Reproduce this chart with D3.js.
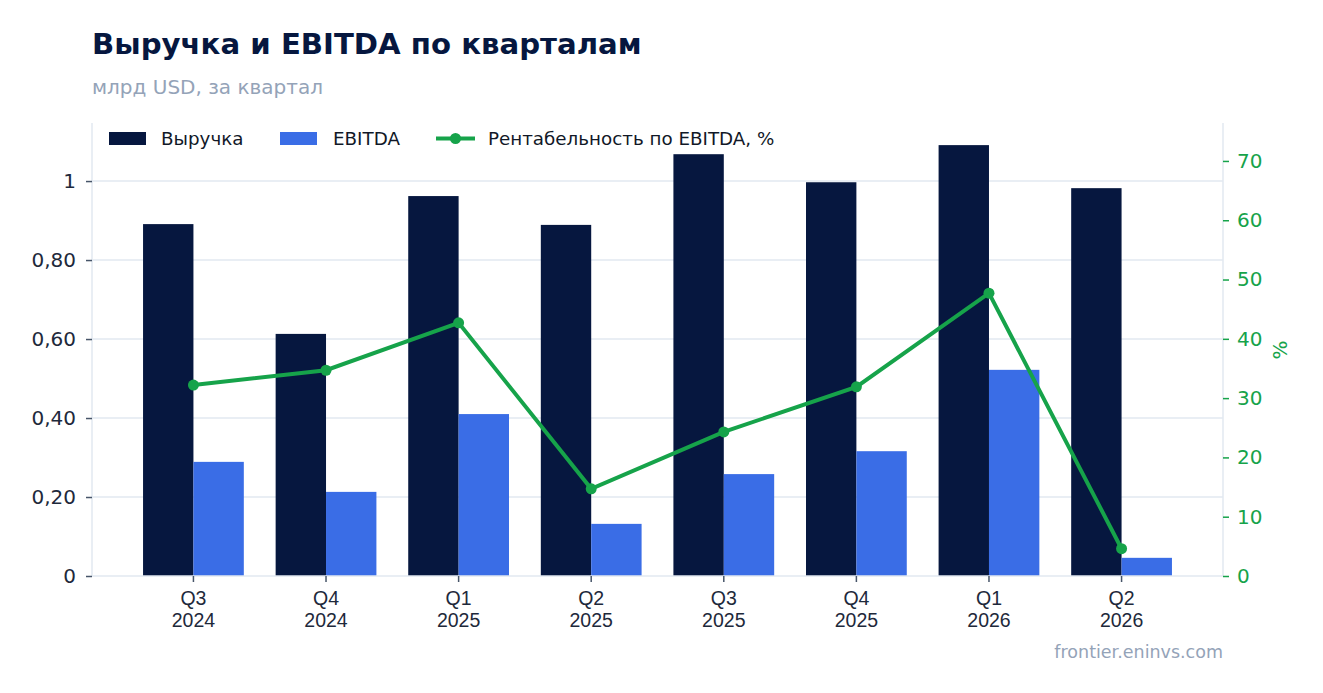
<!DOCTYPE html>
<html>
<head>
<meta charset="utf-8">
<script src="https://cdn.jsdelivr.net/npm/d3@7"></script>
<style>
  body { margin: 0; background: #fff; font-family: "DejaVu Sans", sans-serif; }
</style>
</head>
<body>
<svg id="chart" width="1323" height="693"></svg>
<script>
// quarters and values
var quarters = ["Q3 2024", "Q4 2024", "Q1 2025", "Q2 2025", "Q3 2025", "Q4 2025", "Q1 2026", "Q2 2026"];
var revenue = [0.891, 0.613, 0.962, 0.889, 1.068, 0.997, 1.091, 0.982];
var ebitda = [0.289, 0.213, 0.410, 0.132, 0.258, 0.316, 0.522, 0.046];
var margin = [32.2, 34.7, 42.7, 14.7, 24.3, 31.9, 47.7, 4.6];
var leftTicks = [0, 0.2, 0.4, 0.6, 0.8, 1];
var rightTicks = [0, 10, 20, 30, 40, 50, 60, 70];

var navy = "#06173f";
var blue = "#3a6de6";
var green = "#16a34a";
var gridCol = "#e2e8f0";

var svg = d3.select("#chart");

// plot box
var plotLeft = 92, plotRight = 1223, plotTop = 123, plotBottom = 576;

var x = d3.scaleBand()
    .domain(quarters)
    .range([plotLeft, plotRight])
    .paddingInner(0.24)
    .paddingOuter(0.385);

var yL = d3.scaleLinear().domain([0, 1.147]).range([plotBottom, plotTop]);
var yR = d3.scaleLinear().domain([0, 76.4]).range([plotBottom, plotTop]);

// title
svg.append("text")
    .attr("x", 92).attr("y", 54)
    .attr("font-size", 29.2).attr("font-weight", "bold")
    .attr("fill", navy)
    .text("Выручка и EBITDA по кварталам");

svg.append("text")
    .attr("x", 92).attr("y", 94)
    .attr("font-size", 20)
    .attr("fill", "#94a3b8")
    .text("млрд USD, за квартал");

// gridlines
svg.append("g").selectAll("line")
    .data(leftTicks.filter(function (d) { return d > 0; }))
    .join("line")
    .attr("x1", plotLeft).attr("x2", plotRight)
    .attr("y1", function (d) { return yL(d); })
    .attr("y2", function (d) { return yL(d); })
    .attr("stroke", gridCol).attr("stroke-width", 1.5);

// bars
var half = x.bandwidth() / 2;

svg.append("g").selectAll("rect")
    .data(quarters)
    .join("rect")
    .attr("x", function (d) { return x(d); })
    .attr("y", function (d, i) { return yL(revenue[i]); })
    .attr("width", half)
    .attr("height", function (d, i) { return yL(0) - yL(revenue[i]); })
    .attr("fill", navy);

svg.append("g").selectAll("rect")
    .data(quarters)
    .join("rect")
    .attr("x", function (d) { return x(d) + half; })
    .attr("y", function (d, i) { return yL(ebitda[i]); })
    .attr("width", half)
    .attr("height", function (d, i) { return yL(0) - yL(ebitda[i]); })
    .attr("fill", blue);

// axes
function styleAxis (g, lineCol, tickCol, textCol, size) {
    g.select(".domain").attr("stroke", lineCol).attr("stroke-width", 1.5);
    g.selectAll(".tick line").attr("stroke", tickCol).attr("stroke-width", 1.5);
    g.selectAll(".tick text").attr("fill", textCol).attr("font-size", size)
        .attr("font-family", "DejaVu Sans, sans-serif");
}

var fmtL = function (d) {
    if (d === 0 || d === 1) return String(d);
    return d3.format(".2f")(d).replace(".", ",");
};

var gL = svg.append("g")
    .attr("transform", "translate(" + plotLeft + ",0)")
    .call(d3.axisLeft(yL).tickValues(leftTicks).tickFormat(fmtL).tickSize(6).tickPadding(10).tickSizeOuter(0));
styleAxis(gL, gridCol, "#475569", "#1e293b", 20);
gL.select(".domain").attr("d", "M0," + plotTop + "V" + plotBottom);

var gR = svg.append("g")
    .attr("transform", "translate(" + plotRight + ",0)")
    .call(d3.axisRight(yR).tickValues(rightTicks).tickSize(6).tickPadding(8).tickSizeOuter(0));
styleAxis(gR, gridCol, green, green, 20);
gR.select(".domain").attr("d", "M0," + plotTop + "V" + plotBottom);

var gB = svg.append("g")
    .attr("transform", "translate(0," + plotBottom + ")")
    .call(d3.axisBottom(x).tickSize(6).tickSizeOuter(0).tickFormat(""));
styleAxis(gB, gridCol, "#475569", "#1e293b", 18);
gB.select(".domain").attr("d", "M" + plotLeft + ",0H" + plotRight);

// two-line quarter labels
gB.selectAll(".tick").append("text")
    .attr("text-anchor", "middle")
    .attr("fill", "#1e293b")
    .attr("font-size", 19.5)
    .selectAll("tspan")
    .data(function (d) { return d.split(" "); })
    .join("tspan")
    .attr("x", 0)
    .attr("y", function (d, i) { return 29 + i * 21.5; })
    .text(function (d) { return d; });

// right axis title
svg.append("text")
    .attr("transform", "translate(1287,350) rotate(-90)")
    .attr("text-anchor", "middle")
    .attr("font-size", 20)
    .attr("fill", green)
    .text("%");

// margin line
var line = d3.line()
    .x(function (d, i) { return x(quarters[i]) + half; })
    .y(function (d) { return yR(d); });

svg.append("path")
    .datum(margin)
    .attr("d", line)
    .attr("fill", "none")
    .attr("stroke", green)
    .attr("stroke-width", 4);

svg.append("g").selectAll("circle")
    .data(margin)
    .join("circle")
    .attr("cx", function (d, i) { return x(quarters[i]) + half; })
    .attr("cy", function (d) { return yR(d); })
    .attr("r", 5.5)
    .attr("fill", green);

// legend
var legend = svg.append("g").attr("font-size", 18.3).attr("fill", "#111827");

legend.append("rect").attr("x", 109).attr("y", 132).attr("width", 37).attr("height", 13).attr("fill", navy);
legend.append("text").attr("x", 161).attr("y", 145).text("Выручка");

legend.append("rect").attr("x", 280).attr("y", 132).attr("width", 37).attr("height", 13).attr("fill", blue);
legend.append("text").attr("x", 333).attr("y", 145).text("EBITDA");

legend.append("line").attr("x1", 436).attr("x2", 475).attr("y1", 138.5).attr("y2", 138.5)
    .attr("stroke", green).attr("stroke-width", 4);
legend.append("circle").attr("cx", 455.5).attr("cy", 138.5).attr("r", 5.5).attr("fill", green);
legend.append("text").attr("x", 488).attr("y", 145).text("Рентабельность по EBITDA, %");

// watermark
svg.append("text")
    .attr("x", 1223).attr("y", 658)
    .attr("text-anchor", "end")
    .attr("font-size", 17.5)
    .attr("fill", "#94a3b8")
    .text("frontier.eninvs.com");
</script>
</body>
</html>
